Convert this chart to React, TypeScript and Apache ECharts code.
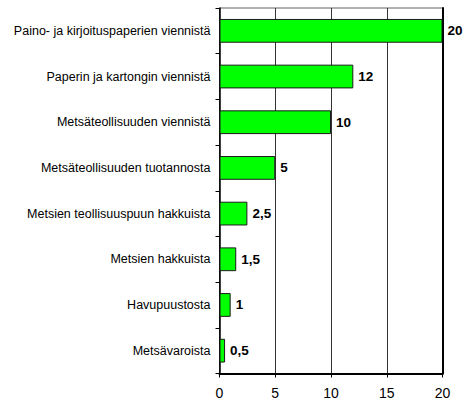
import React, { useEffect, useRef } from "react";
import * as echarts from "echarts";

const categories = [
  "Paino- ja kirjoituspaperien viennistä",
  "Paperin ja kartongin viennistä",
  "Metsäteollisuuden viennistä",
  "Metsäteollisuuden tuotannosta",
  "Metsien teollisuuspuun hakkuista",
  "Metsien hakkuista",
  "Havupuustosta",
  "Metsävaroista",
];
const values = [20, 12, 10, 5, 2.5, 1.5, 1, 0.5];
const xTicks = [0, 5, 10, 15, 20];

const FONT = "'Liberation Sans', Arial, sans-serif";

export default function App() {
  const ref = useRef<HTMLDivElement>(null);
  useEffect(() => {
    if (!ref.current) return;
    const chart = echarts.init(ref.current, undefined, { renderer: "svg" });
    chart.setOption({
      animation: false,
      backgroundColor: "#ffffff",
      grid: {
        left: 219.5,
        right: 20.5,
        top: 8,
        bottom: 33.5,
        show: true,
        borderColor: "#606060",
        borderWidth: 1,
      },
      xAxis: {
        type: "value",
        min: xTicks[0],
        max: xTicks[xTicks.length - 1],
        interval: 5,
        axisLine: { show: true, onZero: false, lineStyle: { color: "#000", width: 2 } },
        axisTick: { show: true, length: 4, lineStyle: { color: "#000", width: 1 } },
        axisLabel: {
          color: "#000",
          fontFamily: FONT,
          fontSize: 14,
          margin: 12,
        },
        splitLine: { show: true, lineStyle: { color: "#333", width: 1 } },
      },
      yAxis: [
        {
          type: "category",
          data: categories,
          inverse: true,
          axisLine: { show: true, lineStyle: { color: "#000", width: 1.5 } },
          axisTick: { show: true, length: 4, lineStyle: { color: "#000" } },
          axisLabel: {
            color: "#000",
            fontFamily: FONT,
            fontSize: 12.5,
            margin: 9,
          },
        },
        {
          type: "category",
          data: categories,
          inverse: true,
          position: "right",
          axisLine: { show: true, lineStyle: { color: "#000", width: 2 } },
          axisTick: { show: false },
          axisLabel: { show: false },
        },
      ],
      series: [
        {
          type: "bar",
          data: values,
          barWidth: "52%",
          itemStyle: { color: "#00ff00", borderColor: "#1a1a1a", borderWidth: 1 },
          label: {
            show: true,
            position: "right",
            distance: 5,
            color: "#000",
            fontFamily: FONT,
            fontWeight: "bold",
            fontSize: 13.5,
            formatter: (p: any) => String(p.value).replace(".", ","),
          },
        },
      ],
    });
    return () => chart.dispose();
  }, []);
  return <div ref={ref} style={{ width: 463, height: 407, position: "absolute", left: 0, top: 0 }} />;
}
